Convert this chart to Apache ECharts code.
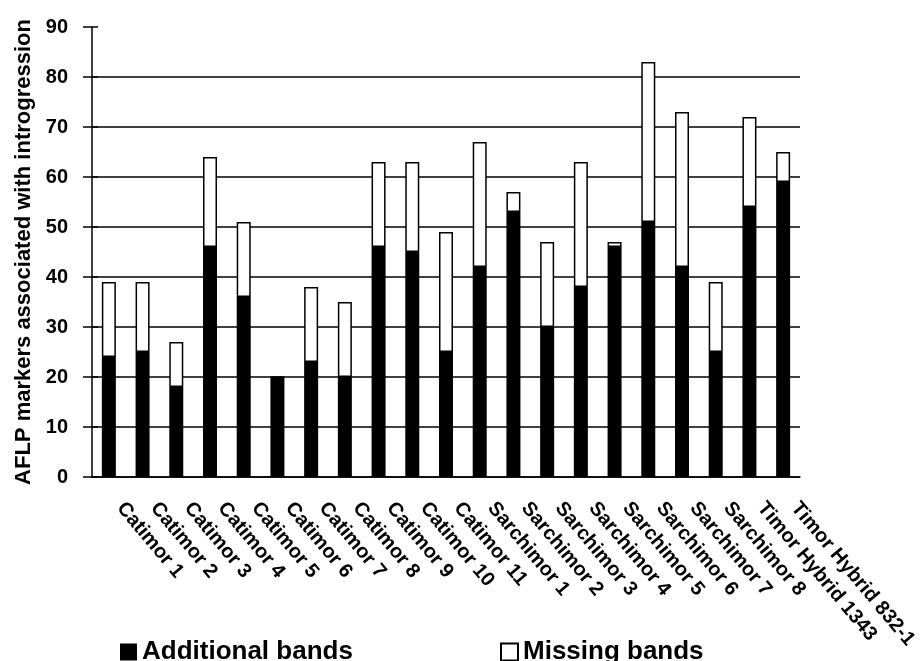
<!DOCTYPE html>
<html>
<head>
<meta charset="utf-8">
<script src="https://cdn.jsdelivr.net/npm/echarts@6/dist/echarts.min.js"></script>
<style>html,body{margin:0;padding:0;background:#fff;}#chart{width:922px;height:661px;}</style>
</head>
<body>
<div id="chart"></div>
<script>
const categories = ['Catimor 1','Catimor 2','Catimor 3','Catimor 4','Catimor 5','Catimor 6','Catimor 7','Catimor 8','Catimor 9','Catimor 10','Catimor 11',
  'Sarchimor 1','Sarchimor 2','Sarchimor 3','Sarchimor 4','Sarchimor 5','Sarchimor 6','Sarchimor 7','Sarchimor 8',
  'Timor Hybrid 1343','Timor Hybrid 832-1'];
const additionalBands = [24,25,18,46,36,20,23,20,46,45,25,42,53,30,38,46,51,42,25,54,59];
const missingBands   = [15,14,9,18,15,0,15,15,17,18,24,25,4,17,25,1,32,31,14,18,6];
const yTicks = [0,10,20,30,40,50,60,70,80,90];

const FONT = 'Liberation Sans, Arial, sans-serif';
const chart = echarts.init(document.getElementById('chart'), null, {renderer:'canvas'});
const gridColors = yTicks.map(v => v === 90 ? 'rgba(0,0,0,0)' : '#000');
chart.setOption({
  backgroundColor: '#fff',
  animation: false,
  grid: {left: 92, right: 122, top: 27, bottom: 184},
  legend: [
    {data: ['Additional bands'], icon: 'rect', left: 115, top: 634, itemWidth: 17, itemHeight: 17, itemGap: 7,
     textStyle: {fontFamily: FONT, fontSize: 26, fontWeight: 'bold', color: '#000'}},
    {data: ['Missing bands'], icon: 'rect', left: 495, top: 634, itemWidth: 17, itemHeight: 17, itemGap: 7,
     textStyle: {fontFamily: FONT, fontSize: 26, fontWeight: 'bold', color: '#000'}}
  ],
  xAxis: {
    type: 'category', data: categories, boundaryGap: true,
    axisLine: {lineStyle: {color: '#000', width: 1.5}},
    axisTick: {length: 6, lineStyle: {color: '#000', width: 1.5}},
    axisLabel: {rotate: -50, margin: 14, padding: [0,0,0,18], interval: 0, color: '#000', fontFamily: FONT, fontSize: 20, fontWeight: 'bold'}
  },
  yAxis: [
    {
      type: 'value', min: 0, max: 90, interval: 10,
      name: 'AFLP markers associated with introgression', nameLocation: 'middle', nameGap: 41,
      nameTextStyle: {fontFamily: FONT, fontSize: 22, fontWeight: 'bold', color: '#000'},
      axisLine: {show: true, lineStyle: {color: '#000', width: 1.5}},
      axisTick: {show: true, length: 9, lineStyle: {color: '#000', width: 1.5}},
      axisLabel: {margin: 24, color: '#000', fontFamily: FONT, fontSize: 20, fontWeight: 'bold'},
      splitLine: {show: true, lineStyle: {color: gridColors, width: 1.5}}
    },
    {
      type: 'value', min: 0, max: 90, interval: 10, position: 'left',
      axisLine: {show: false}, axisLabel: {show: false}, splitLine: {show: false},
      axisTick: {show: true, inside: true, length: 6, lineStyle: {color: '#000', width: 1.5}}
    }
  ],
  series: [
    {name: 'Additional bands', type: 'bar', stack: 'total', data: additionalBands, barWidth: 14,
     itemStyle: {color: '#000'}},
    {name: 'Missing bands', type: 'bar', stack: 'total', data: missingBands, barWidth: 14,
     itemStyle: {color: '#fff', borderColor: '#000', borderWidth: 1.5}}
  ]
});
</script>
</body>
</html>
